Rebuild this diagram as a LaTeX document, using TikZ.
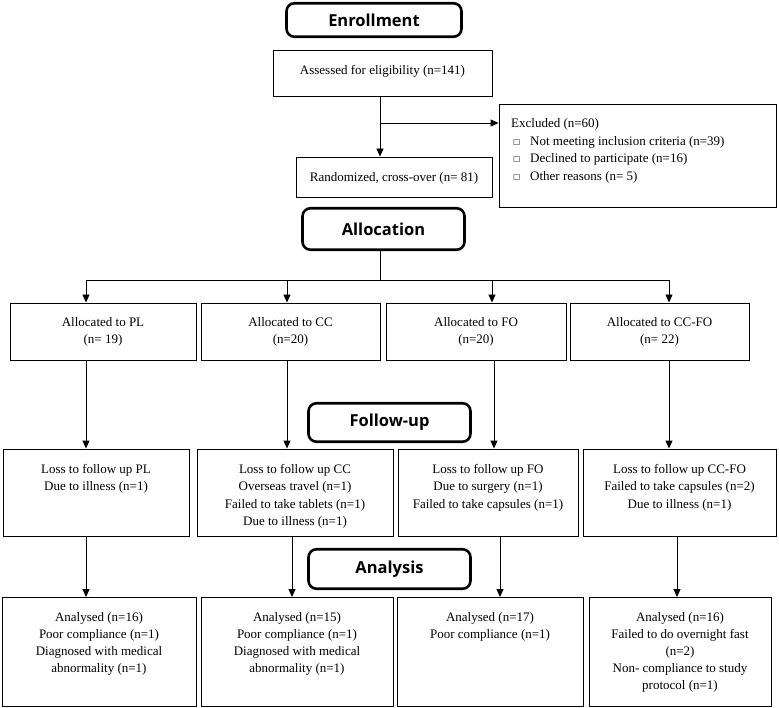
\documentclass[tikz,border=0pt]{standalone}
\usepackage{fontspec}
\setmainfont{Liberation Serif}
\newfontfamily\hdrfont{Open Sans}
\newfontfamily\symfont{DejaVu Sans}
\usetikzlibrary{arrows.meta}
\newcommand\sqbox{\raisebox{0.8pt}{\symfont\fontsize{7.5}{8}\selectfont □}}
\begin{document}
\begin{tikzpicture}[x=1pt,y=-1pt,
  hdr/.style={draw, line width=2.6pt, rounded corners=8pt, inner sep=0,
    font=\hdrfont\bfseries\fontsize{16.5}{20}\selectfont},
  bx/.style={draw, line width=0.9pt, inner sep=0},
  txt/.style={font=\fontsize{13}{17.5}\selectfont, align=center, inner sep=0, anchor=north},
  arr/.style={line width=0.9pt, -{Triangle[length=8pt,width=7pt]}},
  ln/.style={line width=0.9pt}]
\useasboundingbox (0,0) rectangle (779,708);

% stage headers
\node[hdr, minimum width=175pt, minimum height=33.5pt] (enr) at (374,20) {Enrollment};
\node[hdr, minimum width=162pt, minimum height=41.5pt] (alloc) at (383.5,229) {Allocation};
\node[hdr, minimum width=162pt, minimum height=38.5pt] (fup) at (389.5,422.5) {Follow-up};
\node[hdr, minimum width=162pt, minimum height=39.5pt] (ana) at (389.5,569) {Analysis};

% enrollment boxes
\node[bx, minimum width=219pt, minimum height=46pt] (assess) at (382.5,73) {};
\node[txt] (assessT) at ([yshift=-15.5pt]assess.north) {Assessed for eligibility (n=141)};
\node[bx, minimum width=196pt, minimum height=40pt] (rand) at (394,177) {};
\node[txt] (randT) at ([yshift=-15.5pt]rand.north) {Randomized, cross-over (n= 81)};
\node[bx, minimum width=277pt, minimum height=103pt] (excl) at (637.5,155.5) {};
\node[txt, anchor=north west, align=left] (exclT) at (511,118.5)
  {Excluded (n=60)\\
   \hspace*{2pt}\makebox[17pt][l]{\sqbox}Not meeting inclusion criteria (n=39)\\
   \hspace*{2pt}\makebox[17pt][l]{\sqbox}Declined to participate (n=16)\\
   \hspace*{2pt}\makebox[17pt][l]{\sqbox}Other reasons (n= 5)};

% allocation boxes
\node[bx, minimum width=186pt, minimum height=57pt] (aPL) at (103,331.5) {};
\node[bx, minimum width=179pt, minimum height=57pt] (aCC) at (290.5,331.5) {};
\node[bx, minimum width=180pt, minimum height=57pt] (aFO) at (476,331.5) {};
\node[bx, minimum width=179pt, minimum height=57pt] (aCF) at (659.5,331.5) {};
\node[txt] (aPLT) at ([yshift=-14.5pt]aPL.north) {Allocated to PL\\(n= 19)};
\node[txt] (aCCT) at ([yshift=-14.5pt]aCC.north) {Allocated to CC\\(n=20)};
\node[txt] (aFOT) at ([yshift=-14.5pt]aFO.north) {Allocated to FO\\(n=20)};
\node[txt] (aCFT) at ([yshift=-14.5pt]aCF.north) {Allocated to CC-FO\\(n= 22)};

% follow-up boxes
\node[bx, minimum width=186pt, minimum height=87pt] (fPL) at (96,492.5) {};
\node[bx, minimum width=196pt, minimum height=87pt] (fCC) at (295,492.5) {};
\node[bx, minimum width=180pt, minimum height=87pt] (fFO) at (488,492.5) {};
\node[bx, minimum width=193pt, minimum height=87pt] (fCF) at (679.5,492.5) {};
\node[txt] (fPLT) at ([yshift=-15.5pt]fPL.north) {Loss to follow up PL\\Due to illness (n=1)};
\node[txt] (fCCT) at ([yshift=-15.5pt]fCC.north) {Loss to follow up CC\\Overseas travel (n=1)\\Failed to take tablets (n=1)\\Due to illness (n=1)};
\node[txt] (fFOT) at ([yshift=-15.5pt]fFO.north) {Loss to follow up FO\\Due to surgery (n=1)\\Failed to take capsules (n=1)};
\node[txt] (fCFT) at ([yshift=-15.5pt]fCF.north) {Loss to follow up CC-FO\\Failed to take capsules (n=2)\\Due to illness (n=1)};

% analysis boxes
\node[bx, minimum width=194pt, minimum height=109pt] (nPL) at (99,652) {};
\node[bx, minimum width=192pt, minimum height=109pt] (nCC) at (297,652) {};
\node[bx, minimum width=186pt, minimum height=109pt] (nFO) at (490,652) {};
\node[bx, minimum width=182pt, minimum height=109pt] (nCF) at (680,652) {};
\node[txt, font=\fontsize{13}{17}\selectfont] (nPLT) at ([yshift=-15.5pt]nPL.north) {Analysed (n=16)\\Poor compliance (n=1)\\Diagnosed with medical\\abnormality (n=1)};
\node[txt, font=\fontsize{13}{17}\selectfont] (nCCT) at ([yshift=-15.5pt]nCC.north) {Analysed (n=15)\\Poor compliance (n=1)\\Diagnosed with medical\\abnormality (n=1)};
\node[txt, font=\fontsize{13}{17}\selectfont] (nFOT) at ([yshift=-15.5pt]nFO.north) {Analysed (n=17)\\Poor compliance (n=1)};
\node[txt, font=\fontsize{13}{17}\selectfont] (nCFT) at ([yshift=-15.5pt]nCF.north) {Analysed (n=16)\\Failed to do overnight fast\\(n=2)\\Non- compliance to study\\protocol (n=1)};

% connector coordinates
\coordinate (spine) at (380,123);
\coordinate (bus) at (380,280);
\coordinate (k1) at (86,280);
\coordinate (k2) at (287,280);
\coordinate (k3) at (492,280);
\coordinate (k4) at (669,280);
\coordinate (g3) at (494,0);
\coordinate (m2) at (292,0);
\coordinate (m3) at (500,0);
\coordinate (m4) at (677,0);

% connectors
\draw[arr] (assess.south -| spine) -- (rand.north -| spine);
\draw[arr] (spine) -- (spine -| excl.west);
\draw[ln] (alloc.south -| bus) -- (bus);
\draw[ln] (k1) -- (k4);
\draw[arr] (k1) -- (k1 |- aPL.north);
\draw[arr] (k2) -- (k2 |- aCC.north);
\draw[arr] (k3) -- (k3 |- aFO.north);
\draw[arr] (k4) -- (k4 |- aCF.north);
\draw[arr] (aPL.south -| k1) -- (fPL.north -| k1);
\draw[arr] (aCC.south -| k2) -- (fCC.north -| k2);
\draw[arr] (aFO.south -| g3) -- (fFO.north -| g3);
\draw[arr] (aCF.south -| k4) -- (fCF.north -| k4);
\draw[arr] (fPL.south -| k1) -- (nPL.north -| k1);
\draw[arr] (fCC.south -| m2) -- (nCC.north -| m2);
\draw[arr] (fFO.south -| m3) -- (nFO.north -| m3);
\draw[arr] (fCF.south -| m4) -- (nCF.north -| m4);
\end{tikzpicture}
\end{document}
